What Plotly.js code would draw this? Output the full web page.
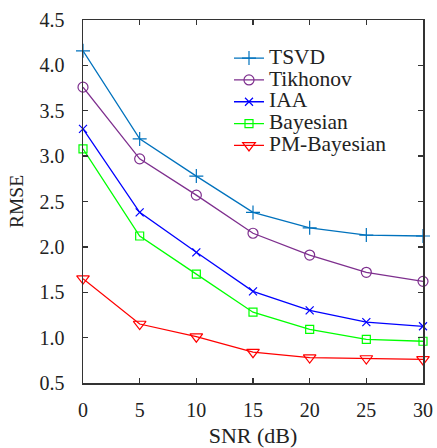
<!DOCTYPE html>
<html>
<head>
<meta charset="utf-8">
<script src="https://cdn.plot.ly/plotly-3.0.1.min.js"></script>
<style>
html,body{margin:0;padding:0;background:#fff;}
#chart{width:437px;height:448px;}
</style>
</head>
<body>
<div id="chart"></div>
<script>
const snr = [0, 5, 10, 15, 20, 25, 30];
const tsvd = [4.16, 3.19, 2.78, 2.38, 2.21, 2.13, 2.12];
const tikhonov = [3.76, 2.97, 2.57, 2.15, 1.91, 1.72, 1.62];
const iaa = [3.30, 2.38, 1.94, 1.51, 1.30, 1.17, 1.125];
const bayesian = [3.08, 2.12, 1.70, 1.28, 1.09, 0.98, 0.96];
const pmBayesian = [1.65, 1.15, 1.01, 0.84, 0.78, 0.77, 0.76];
const seriesNames = ['TSVD', 'Tikhonov', 'IAA', 'Bayesian', 'PM-Bayesian'];
const xTicks = [0, 5, 10, 15, 20, 25, 30];
const yTicks = [0.5, 1.0, 1.5, 2.0, 2.5, 3.0, 3.5, 4.0, 4.5];

const styles = [
  {color: '#0072BD', symbol: 'cross-thin-open', size: 10},
  {color: '#7E2F8E', symbol: 'circle-open', size: 10},
  {color: '#0000FF', symbol: 'x-thin-open', size: 8},
  {color: '#00FF00', symbol: 'square-open', size: 8},
  {color: '#FF0000', symbol: 'triangle-down-open', size: 11}
];
const ys = [tsvd, tikhonov, iaa, bayesian, pmBayesian];

const traces = ys.map((y, i) => ({
  x: snr, y: y, type: 'scatter', mode: 'lines+markers',
  name: '<span style="font-size:21.5px">' + seriesNames[i] + '</span>',
  cliponaxis: false,
  line: {color: styles[i].color, width: 1.3},
  marker: {symbol: styles[i].symbol, size: styles[i].size, color: styles[i].color,
           line: {color: styles[i].color, width: 1.2}}
}));

const fontFam = '"Liberation Serif", "Times New Roman", serif';
const layout = {
  width: 437, height: 448,
  margin: {l: 83, r: 14, t: 20, b: 65},
  paper_bgcolor: '#fff', plot_bgcolor: '#fff',
  font: {family: fontFam, color: '#222', size: 20},
  showlegend: true,
  legend: {x: 0.4294, y: 0.939, xanchor: 'left', yanchor: 'top',
           bgcolor: 'rgba(0,0,0,0)', font: {family: fontFam, size: 14.5, color: '#222'},
           tracegroupgap: 0},
  xaxis: {
    range: [0, 30], tickvals: xTicks, ticktext: xTicks.map(String),
    ticks: 'inside', ticklen: 5, tickwidth: 1.3, tickcolor: '#333',
    showline: true, linecolor: '#333', linewidth: 1.5, mirror: 'ticks',
    showgrid: false, zeroline: false, ticklabelstandoff: 8,
    tickfont: {family: fontFam, size: 20, color: '#222'},
    title: {text: 'SNR (dB)', font: {family: fontFam, size: 22, color: '#222'}, standoff: 9}
  },
  yaxis: {
    range: [0.5, 4.5], tickvals: yTicks, ticktext: yTicks.map(v => v.toFixed(1)),
    ticks: 'inside', ticklen: 5, tickwidth: 1.3, tickcolor: '#333',
    showline: true, linecolor: '#333', linewidth: 1.5, mirror: 'ticks',
    showgrid: false, zeroline: false, ticklabelstandoff: 13,
    tickfont: {family: fontFam, size: 20, color: '#222'},
    title: {text: 'RMSE', font: {family: fontFam, size: 19.5, color: '#222'}, standoff: 10}
  }
};

Plotly.newPlot('chart', traces, layout, {displayModeBar: false, staticPlot: true});
</script>
</body>
</html>
